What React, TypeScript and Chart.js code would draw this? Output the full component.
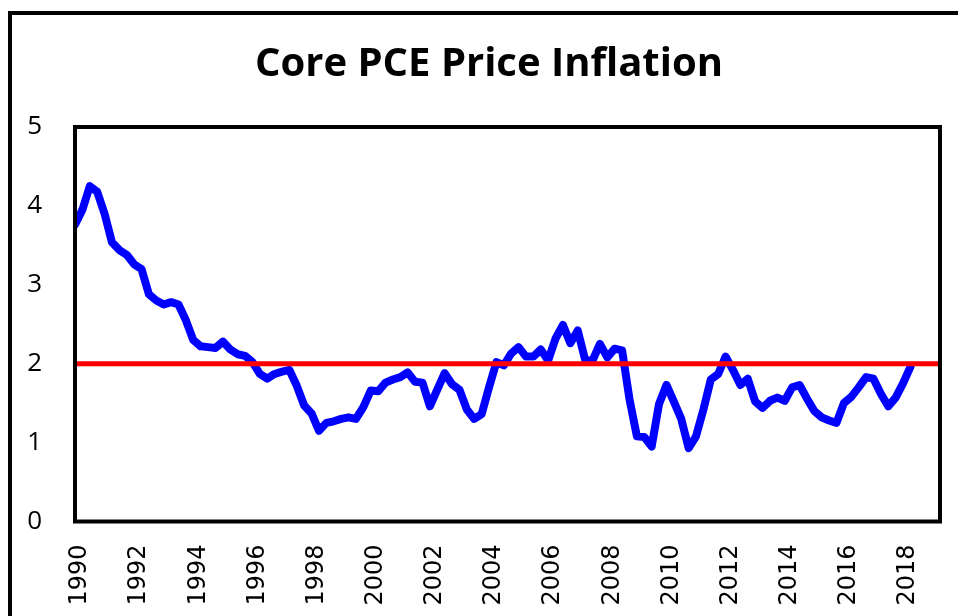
import React, { useEffect, useRef } from "react";
import { Chart, registerables } from "chart.js";

Chart.register(...registerables);

const TITLE = "Core PCE Price Inflation";
const START_YEAR = 1990;
const AXIS_END_YEAR = 2019.25;
const TARGET = 2;

// Quarterly core PCE inflation (%), 1990Q1 .. 2018Q2
const y1990_1995 = [
  3.76, 3.95, 4.25, 4.18,
  3.9, 3.54, 3.44, 3.38,
  3.26, 3.2, 2.88, 2.8,
  2.75, 2.78, 2.75, 2.55,
  2.3, 2.22, 2.21, 2.2,
  2.28, 2.18, 2.12, 2.1,
];
const y1996_2001 = [
  2.02, 1.87, 1.81, 1.87,
  1.9, 1.92, 1.72, 1.47,
  1.37, 1.15, 1.25, 1.27,
  1.3, 1.32, 1.3, 1.45,
  1.66, 1.65, 1.76, 1.8,
  1.83, 1.89, 1.77, 1.76,
];
const y2002_2007 = [
  1.46, 1.67, 1.88, 1.74,
  1.67, 1.42, 1.3, 1.36,
  1.7, 2.02, 1.98, 2.13,
  2.21, 2.09, 2.09, 2.18,
  2.04, 2.32, 2.49, 2.26,
  2.42, 2.05, 2.04, 2.25,
];
const y2008_2013 = [
  2.08, 2.19, 2.17, 1.55,
  1.08, 1.07, 0.95, 1.49,
  1.73, 1.52, 1.3, 0.93,
  1.08, 1.42, 1.8, 1.87,
  2.09, 1.92, 1.73, 1.81,
  1.52, 1.44, 1.53, 1.57,
];
const y2014_2018 = [
  1.53, 1.7, 1.73, 1.56,
  1.4, 1.32, 1.28, 1.25,
  1.5, 1.58, 1.7, 1.83,
  1.81, 1.62, 1.46, 1.57,
  1.75, 1.96,
];

const yTickValues = [0, 1, 2, 3, 4, 5];
const xTickYears = [1990, 1992, 1994, 1996, 1998, 2000, 2002, 2004, 2006, 2008, 2010, 2012, 2014, 2016, 2018];

const coreValues = [...y1990_1995, ...y1996_2001, ...y2002_2007, ...y2008_2013, ...y2014_2018];

export default function App() {
  const ref = useRef<HTMLCanvasElement | null>(null);

  useEffect(() => {
    document.body.style.overflow = "hidden";
    const canvas = ref.current;
    if (!canvas) return;

    const coreData = coreValues.map((v, i) => ({ x: START_YEAR + i / 4, y: v }));
    const targetData = [
      { x: START_YEAR, y: TARGET },
      { x: AXIS_END_YEAR, y: TARGET },
    ];

    const framePlugin = {
      id: "frameAndTitle",
      afterDraw(chart: any) {
        const { ctx, chartArea } = chart;
        ctx.save();
        ctx.strokeStyle = "#000";
        ctx.lineWidth = 4;
        ctx.strokeRect(chartArea.left, chartArea.top, chartArea.right - chartArea.left, chartArea.bottom - chartArea.top);
        ctx.fillStyle = "#000";
        ctx.font = "bold 40px 'Open Sans'";
        ctx.textAlign = "center";
        ctx.textBaseline = "middle";
        ctx.fillText(TITLE, 477, 50);
        ctx.restore();
      },
    };

    const chart = new Chart(canvas, {
      type: "line",
      data: {
        datasets: [
          {
            label: "Target",
            data: targetData,
            borderColor: "#ff0000",
            borderWidth: 5,
            pointRadius: 0,
            tension: 0,
            order: 0,
          },
          {
            label: "Core PCE",
            data: coreData,
            borderColor: "#0000ff",
            borderWidth: 8,
            pointRadius: 0,
            tension: 0,
            borderJoinStyle: "round",
            borderCapStyle: "round",
            order: 1,
          },
        ],
      },
      options: {
        animation: false,
        responsive: false,
        devicePixelRatio: 1,
        layout: { padding: { top: 112, right: 18, left: 0, bottom: 0 } },
        plugins: {
          legend: { display: false },
          title: { display: false },
          tooltip: { enabled: false },
        },
        scales: {
          x: {
            type: "linear",
            min: START_YEAR,
            max: AXIS_END_YEAR,
            grid: { display: false },
            border: { display: false },
            afterBuildTicks(scale: any) {
              scale.ticks = xTickYears.map((v) => ({ value: v }));
            },
            afterFit(scale: any) {
              scale.height = 94.5;
            },
            ticks: {
              autoSkip: false,
              maxRotation: 90,
              minRotation: 90,
              padding: 15,
              labelOffset: 5,
              color: "#000",
              font: { family: "'DejaVu Sans'", size: 24 },
              callback: (v: any) => String(v),
            },
          },
          y: {
            min: 0,
            max: 5,
            grid: { display: false },
            border: { display: false },
            afterBuildTicks(scale: any) {
              scale.ticks = yTickValues.map((v) => ({ value: v }));
            },
            afterFit(scale: any) {
              scale.width = 63;
            },
            ticks: {
              padding: 25,
              color: "#000",
              font: { family: "'Open Sans'", size: 26 },
            },
          },
        },
      },
      plugins: [framePlugin],
    } as any);

    return () => chart.destroy();
  }, []);

  return (
    <div
      style={{
        position: "absolute",
        left: 8,
        top: 11,
        width: 946,
        height: 601,
        borderTop: "4px solid #000",
        borderLeft: "4px solid #000",
        background: "#fff",
      }}
    >
      <canvas ref={ref} width={946} height={601} style={{ display: "block", width: 946, height: 601 }} />
    </div>
  );
}
